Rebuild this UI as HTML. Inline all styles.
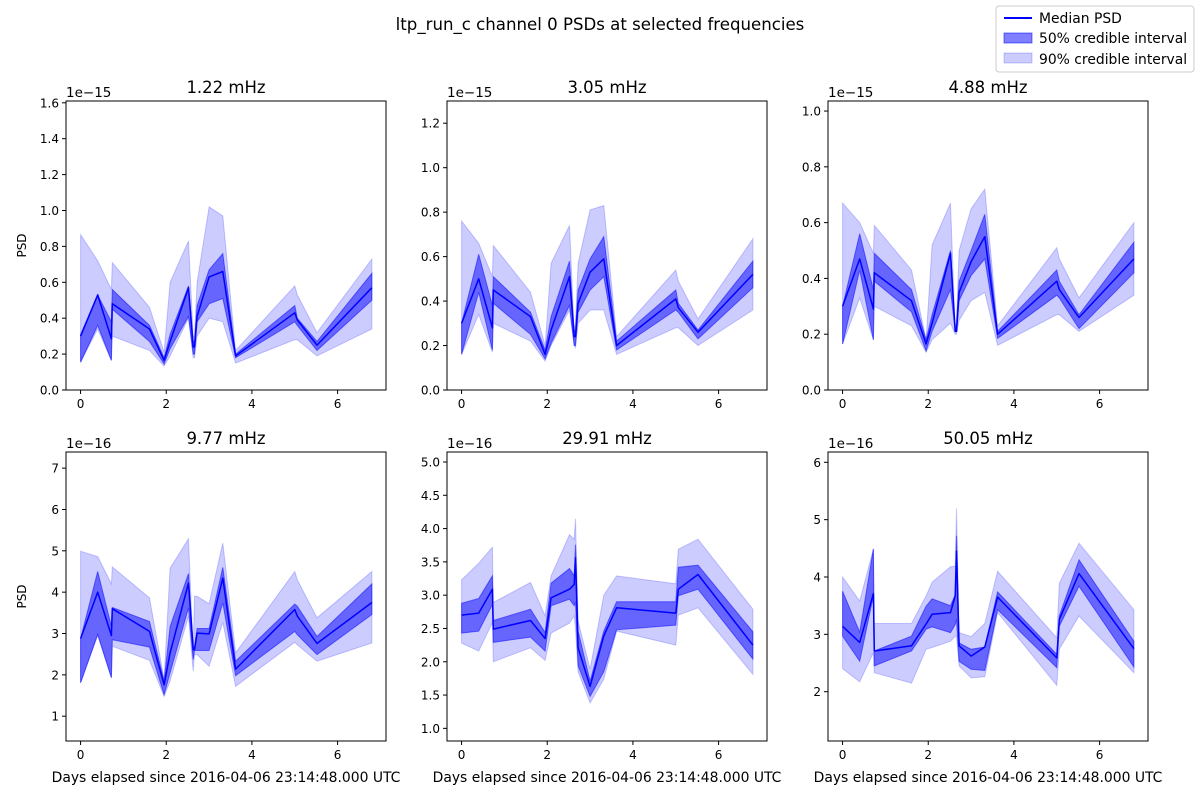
<!DOCTYPE html>
<html><head><meta charset="utf-8"><style>
body{margin:0;background:#fff;}
svg{display:block;font-family:"DejaVu Sans","Liberation Sans",sans-serif;}
</style></head><body>
<svg id="fig" width="1200" height="800" viewBox="0 0 1200 800" xmlns="http://www.w3.org/2000/svg">
<rect width="1200" height="800" fill="#fff"/>
<text x="600" y="30" font-size="16.6" text-anchor="middle">ltp_run_c channel 0 PSDs at selected frequencies</text>
<g>
<rect x="996" y="6" width="198" height="66" rx="3" fill="#fff" stroke="#ccc"/>
<line x1="1004" y1="18" x2="1032" y2="18" stroke="#0000ff" stroke-width="2"/>
<text x="1039" y="23" font-size="13.9">Median PSD</text>
<rect x="1004" y="33" width="28" height="10" fill="rgba(0,0,255,0.5)" stroke="rgba(0,0,255,0.5)"/>
<text x="1039" y="43" font-size="13.9">50% credible interval</text>
<rect x="1004" y="53" width="28" height="10" fill="rgba(0,0,255,0.2)" stroke="rgba(0,0,255,0.2)"/>
<text x="1039" y="64" font-size="13.9">90% credible interval</text>
</g>
</svg>
<script>
const times = [0,0.40,0.72,0.74,1.61,1.95,2.09,2.52,2.63,2.66,2.72,3.00,3.32,3.62,5.00,5.06,5.52,6.80];
const titles = ["1.22 mHz","3.05 mHz","4.88 mHz","9.77 mHz","29.91 mHz","50.05 mHz"];
const offsets = ["1e\u221215","1e\u221215","1e\u221215","1e\u221216","1e\u221216","1e\u221216"];
const yTicks = [[0,0.2,0.4,0.6,0.8,1.0,1.2,1.4,1.6],[0,0.2,0.4,0.6,0.8,1.0,1.2],[0,0.2,0.4,0.6,0.8,1.0],[1,2,3,4,5,6,7],[1.0,1.5,2.0,2.5,3.0,3.5,4.0,4.5,5.0],[2,3,4,5,6]];
const yTickDecimals = [1,1,1,0,1,0];
const yLims = [[0,1.61],[0,1.30],[0,1.036],[0.40,7.39],[0.81,5.15],[1.14,6.18]];
const xTicks = [0,2,4,6];
const med = [
[.30,.53,.285,.48,.34,.165,.27,.57,.24,.24,.41,.63,.66,.19,.43,.39,.25,.57],
[.30,.50,.28,.45,.33,.16,.27,.51,.24,.24,.39,.53,.59,.20,.41,.37,.26,.52],
[.30,.47,.29,.42,.32,.165,.24,.49,.21,.21,.35,.46,.55,.20,.39,.36,.26,.47],
[2.88,4.0,2.95,3.60,3.05,1.76,2.53,4.22,2.61,2.61,3.01,2.99,4.34,2.14,3.58,3.42,2.76,3.75],
[2.70,2.73,3.09,2.49,2.62,2.35,2.96,3.09,3.16,3.56,2.21,1.63,2.39,2.81,2.73,3.09,3.31,2.25],
[3.14,2.86,3.71,2.71,2.80,3.18,3.35,3.38,3.67,4.45,2.80,2.62,2.78,3.65,2.59,3.26,4.06,2.75]];
const hi50 = [
[.31,.53,.38,.56,.36,.18,.31,.58,.27,.27,.47,.67,.76,.20,.47,.40,.27,.65],
[.30,.61,.38,.51,.35,.18,.33,.58,.26,.27,.45,.59,.69,.22,.45,.39,.27,.58],
[.30,.56,.36,.49,.36,.18,.27,.50,.21,.24,.39,.50,.63,.21,.43,.39,.27,.53],
[2.88,4.50,3.17,3.63,3.29,1.85,3.17,4.45,2.65,2.69,3.12,3.12,4.60,2.33,3.71,3.66,2.93,4.20],
[2.88,2.95,3.29,2.62,2.79,2.44,3.18,3.40,3.29,3.76,2.46,1.71,2.46,2.90,2.90,3.42,3.45,2.45],
[3.75,3.04,4.49,2.71,2.97,3.49,3.62,3.50,3.69,4.72,2.85,2.74,2.78,3.74,2.65,3.32,4.30,2.88]];
const lo50 = [
[.155,.36,.165,.45,.27,.145,.23,.41,.20,.20,.38,.48,.51,.18,.38,.36,.22,.50],
[.16,.44,.18,.39,.25,.14,.21,.38,.20,.20,.35,.45,.51,.18,.36,.35,.23,.46],
[.165,.43,.18,.39,.28,.14,.21,.36,.21,.21,.32,.41,.47,.185,.34,.33,.22,.42],
[1.81,2.97,1.93,2.85,2.67,1.52,2.05,3.62,2.37,2.59,2.59,2.59,3.74,1.98,3.05,2.97,2.49,3.46],
[2.43,2.46,2.86,2.29,2.37,2.16,2.84,2.94,2.84,2.90,1.94,1.48,1.85,2.48,2.55,2.99,3.09,2.04],
[2.97,2.53,3.67,2.45,2.71,3.09,3.13,3.03,3.17,3.26,2.53,2.39,2.37,3.43,2.42,3.14,3.84,2.43]];
const hi90 = [
[.865,.72,.56,.71,.46,.21,.60,.83,.30,.30,.60,1.02,.97,.22,.58,.53,.32,.73],
[.76,.66,.51,.65,.44,.20,.57,.74,.26,.30,.57,.81,.83,.24,.54,.49,.32,.68],
[.67,.60,.49,.59,.43,.18,.52,.67,.21,.24,.50,.65,.72,.23,.51,.47,.33,.60],
[4.99,4.86,4.20,4.61,3.86,1.89,4.58,5.29,2.53,3.90,3.90,3.72,5.19,2.53,4.50,4.30,3.38,4.50],
[3.23,3.48,3.72,2.89,3.19,2.69,3.29,3.91,3.84,4.15,2.61,1.89,3.0,3.29,3.17,3.69,3.84,2.79],
[4.0,3.58,4.49,3.19,3.19,3.67,3.91,4.18,4.19,5.20,3.03,2.96,3.19,4.10,2.94,3.89,4.59,3.43]];
const lo90 = [
[.155,.34,.165,.30,.22,.133,.19,.40,.18,.18,.30,.40,.38,.15,.28,.28,.19,.34],
[.16,.34,.17,.30,.22,.13,.20,.36,.20,.19,.30,.36,.36,.16,.28,.28,.20,.36],
[.165,.33,.18,.30,.23,.135,.18,.24,.20,.20,.25,.32,.35,.16,.27,.27,.21,.34],
[1.81,2.97,1.93,2.69,2.35,1.48,1.85,3.42,2.09,2.49,2.49,2.21,3.27,1.72,2.79,2.73,2.33,2.77],
[2.28,2.16,2.59,2.0,2.21,2.02,2.43,2.58,2.69,2.5,1.85,1.38,1.74,2.46,2.25,2.70,2.81,1.81],
[2.40,2.17,2.68,2.33,2.15,2.74,2.77,2.88,2.97,2.97,2.45,2.24,2.26,3.38,2.11,2.74,3.32,2.33]];

const NS="http://www.w3.org/2000/svg";
const fig=document.getElementById('fig');
const xLim=[-0.34,7.13];
const colLeft=[66,447,828], rowTop=[101,452], W=320, H=289;
function mk(tag,attrs,parent){const e=document.createElementNS(NS,tag);for(const k in attrs)e.setAttribute(k,attrs[k]);parent.appendChild(e);return e;}
for(let p=0;p<6;p++){
  const L=colLeft[p%3], T=rowTop[Math.floor(p/3)];
  const xs=v=>L+(v-xLim[0])/(xLim[1]-xLim[0])*W;
  const ys=v=>T+H-(v-yLims[p][0])/(yLims[p][1]-yLims[p][0])*H;
  const g=mk('g',{},fig);
  
  
  const cp=mk('clipPath',{id:'c'+p},g); mk('rect',{x:L,y:T,width:W,height:H},cp);
  const band=(lo,hi,fill,name)=>{
    let d='M'+times.map((t,i)=>xs(t).toFixed(1)+','+ys(hi[p][i]).toFixed(1)).join('L');
    for(let i=times.length-1;i>=0;i--) d+='L'+xs(times[i]).toFixed(1)+','+ys(lo[p][i]).toFixed(1);
    const e=mk('path',{d:d+'Z',fill:fill,stroke:fill,'stroke-width':1,'clip-path':'url(#c'+p+')'},g);
    
    
  };
  band(lo90,hi90,'rgba(0,0,255,0.2)','band-90');
  band(lo50,hi50,'rgba(0,0,255,0.5)','band-50');
  const ln=mk('polyline',{points:times.map((t,i)=>xs(t).toFixed(1)+','+ys(med[p][i]).toFixed(1)).join(' '),fill:'none',stroke:'#0000ff','stroke-width':1.5,'stroke-linejoin':'round','clip-path':'url(#c'+p+')'},g);
  
  
  mk('rect',{x:L,y:T,width:W,height:H,fill:'none',stroke:'#000','stroke-width':1},g);
  xTicks.forEach(v=>{const x=xs(v);mk('line',{x1:x,y1:T+H,x2:x,y2:T+H+4,stroke:'#000'},g);
    const t=mk('text',{x:x,y:T+H+18,'font-size':12,'text-anchor':'middle'},g);t.textContent=v;
    
    });
  yTicks[p].forEach(v=>{const y=ys(v);mk('line',{x1:L-4,y1:y,x2:L,y2:y,stroke:'#000'},g);
    const t=mk('text',{x:L-7,y:y+4.5,'font-size':12,'text-anchor':'end'},g);t.textContent=v.toFixed(yTickDecimals[p]);
    
    });
  const ti=mk('text',{x:L+W/2,y:T-8,'font-size':16.5,'text-anchor':'middle'},g);ti.textContent=titles[p];
  
  
  const of=mk('text',{x:L,y:T-4,'font-size':13.5},g);of.textContent=offsets[p];
  
  
  if(p%3===0){const yl=mk('text',{x:0,y:0,'font-size':12,'text-anchor':'middle',transform:'translate('+(L-40)+','+(T+H/2)+') rotate(-90)'},g);yl.textContent='PSD';
    
    }
  if(p>=3){const xl=mk('text',{x:L+W/2,y:T+H+41,'font-size':13.9,'text-anchor':'middle'},g);xl.textContent='Days elapsed since 2016-04-06 23:14:48.000 UTC';
    
    }
}
</script>
</body></html>
